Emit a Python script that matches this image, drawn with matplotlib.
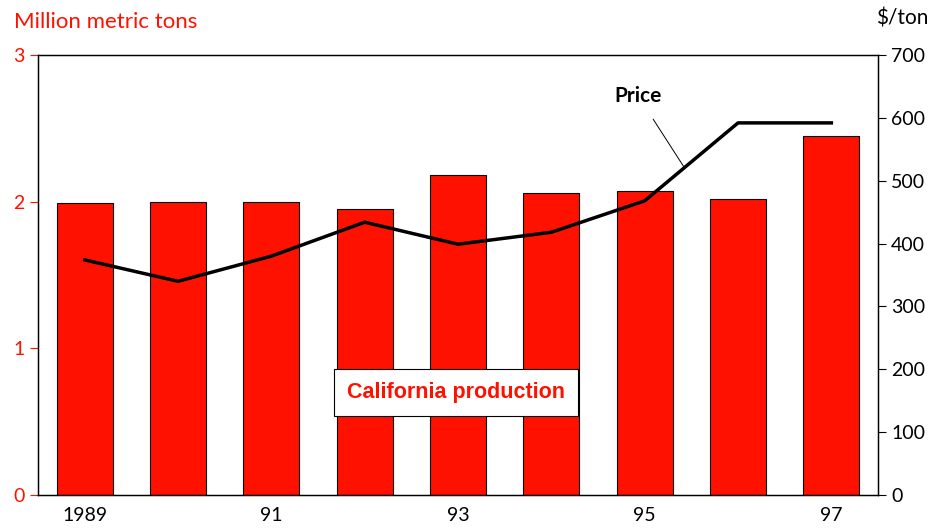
import matplotlib
matplotlib.use("Agg")
import matplotlib.pyplot as plt

anos = ["1989", "1990", "1991", "1992", "1993", "1994", "1995", "1996", "1997"]
rotulos_x = ["1989", "", "91", "", "93", "", "95", "", "97"]
producao = [1.99, 2.00, 2.00, 1.95, 2.18, 2.06, 2.07, 2.02, 2.45]
preco = [374, 340, 380, 434, 399, 418, 468, 592, 592]

VERMELHO = "#ff1100"
plt.rcParams["font.family"] = ["Lato", "DejaVu Sans"]

fig = plt.figure(figsize=(9.3, 5.29), dpi=100)
ax = fig.add_axes([0.0409, 0.0643, 0.9032, 0.8317])
x = range(len(anos))

ax.bar(x, producao, width=0.6, color=VERMELHO, edgecolor="black", linewidth=0.8, zorder=2)
ax.set_xlim(-0.5, 8.5)
ax.set_ylim(0, 3)
ax.set_yticks([0, 1, 2, 3])
ax.tick_params(axis="y", colors=VERMELHO, labelsize=14, length=6, direction="out")
ax.tick_params(axis="x", length=0, labelsize=14, pad=9)
ax.set_xticks(list(x))
ax.set_xticklabels(rotulos_x)
for s in ["top", "right", "left", "bottom"]:
    ax.spines[s].set_linewidth(1.0)

ax2 = ax.twinx()
ax2.plot(x, preco, color="black", linewidth=2.5, zorder=3)
ax2.set_ylim(0, 700)
ax2.set_yticks(range(0, 701, 100))
ax2.tick_params(axis="y", labelsize=14, length=6)

fig.text(0.015, 0.958, "Million metric tons", color=VERMELHO, fontsize=16, va="center", ha="left")
fig.text(0.998, 0.965, "$/ton", color="black", fontsize=15, va="center", ha="right")

ax.text(3.98, 0.70, "California production", color=VERMELHO, fontsize=15.5,
        fontweight="bold", family=["Liberation Sans", "DejaVu Sans"],
        ha="center", va="center", zorder=5,
        bbox=dict(boxstyle="square,pad=0.6", facecolor="white", edgecolor="black", linewidth=0.8))

ax2.annotate("Price", xy=(6.42, 522), xytext=(5.93, 635), fontsize=15, fontweight="bold",
             ha="center", va="center",
             arrowprops=dict(arrowstyle="-", color="black", linewidth=0.7, shrinkA=9, shrinkB=0))

fig.savefig("out.png", dpi=100)
